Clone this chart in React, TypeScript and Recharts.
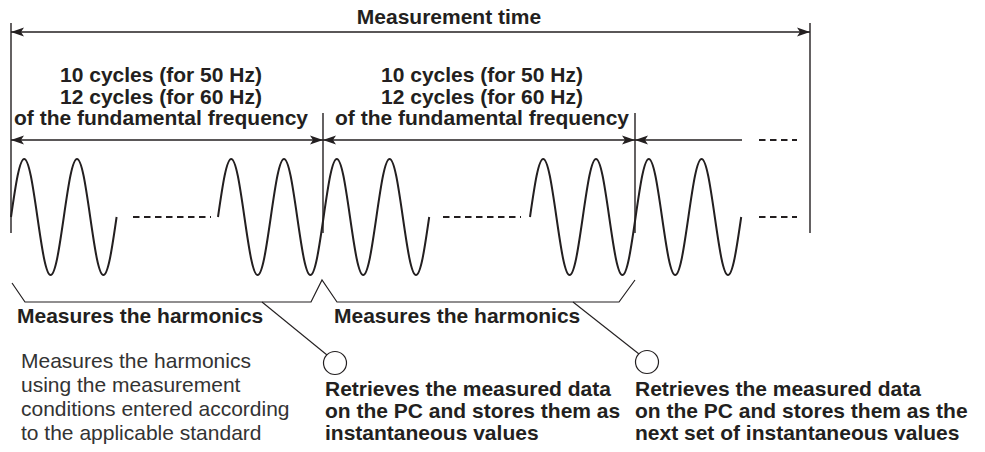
import {
	ComposedChart,
	Line,
	ReferenceDot,
	ReferenceLine,
	XAxis,
	YAxis,
} from "recharts"

// sheet units: x runs along the time line, y runs top-down like the drawing
const WIDTH = 985
const HEIGHT = 452

const ink = "#231f20"
const font = "'Liberation Sans', Arial, Helvetica, sans-serif"

// the three drawn runs of the fundamental
const waveStarts = [11, 218, 530]
const waveCycles = [2, 4, 4]
const cyclePeriod = 52.8
const cycleShape = [0, 0.71, 1, 0.71, 0, -0.71, -1, -0.71]
const waveZero = 217
const waveAmp = 58

// span arrows (measurement time + the two windows + the next one)
const arrowFrom = [11, 11, 323, 635]
const arrowTo = [810, 323, 635, 742]
const arrowLevel = [32, 140, 140, 140]
const arrowHeads = ["both", "both", "both", "left"]

// vertical boundary marks
const markAt = [11, 810, 323, 635]
const markTop = [23, 23, 113, 113]
const markBottom = [233, 233, 233, 233]

// "- - - -" continuations
const dashFrom = [133, 443, 759, 759]
const dashTo = [211, 521, 797, 797]
const dashLevel = [217, 217, 217, 140]

// bracket under the two windows
const braceX = [12, 25, 311, 322, 337, 619, 635]
const braceY = [283, 302, 302, 280, 302, 302, 280]

// leader lines down to the "store" circles
const leaderStart = [262, 573]
const leaderEnd = [327, 639]
const leaderEndY = [355, 354]
const circleX = [335, 647]
const circleY = [363, 362]

// texts
const titleLabel = "Measurement time"
const windowLines = [
	"10 cycles (for 50 Hz)",
	"12 cycles (for 60 Hz)",
	"of the fundamental frequency",
]
const windowCentres = [161, 482]
const windowBaselines = [82, 104, 125]
const measureLabel = "Measures the harmonics"
const measureStarts = [17, 334]
const noteLines = [
	"Measures the harmonics",
	"using the measurement",
	"conditions entered according",
	"to the applicable standard",
]
const noteBaselines = [368, 392, 416, 440]
const storeLines = [
	[
		"Retrieves the measured data",
		"on the PC and stores them as",
		"instantaneous values",
	],
	[
		"Retrieves the measured data",
		"on the PC and stores them as the",
		"next set of instantaneous values",
	],
]
const storeStarts = [325, 635]
const storeBaselines = [396, 418, 440]

const waves = waveStarts.map((start, i) => {
	const steps = cycleShape.length
	const pts = []
	for (let k = 0; k <= waveCycles[i] * steps; k++) {
		pts.push({ x: start + (k * cyclePeriod) / steps, v: cycleShape[k % steps] })
	}
	return pts
})

const brace = braceX.map((x, i) => ({ x, y: braceY[i] }))

type TextRow = {
	x: number
	y: number
	text: string
	anchor: "start" | "middle"
	bold: boolean
}

const textRows: TextRow[] = [
	{ x: 449, y: 24, text: titleLabel, anchor: "middle", bold: true },
	...windowCentres.flatMap((cx) =>
		windowLines.map((t, j) => ({
			x: cx,
			y: windowBaselines[j],
			text: t,
			anchor: "middle" as const,
			bold: true,
		})),
	),
	...measureStarts.map((x) => ({
		x,
		y: 323,
		text: measureLabel,
		anchor: "start" as const,
		bold: true,
	})),
	...noteLines.map((t, j) => ({
		x: 21,
		y: noteBaselines[j],
		text: t,
		anchor: "start" as const,
		bold: false,
	})),
	...storeLines.flatMap((lines, i) =>
		lines.map((t, j) => ({
			x: storeStarts[i],
			y: storeBaselines[j],
			text: t,
			anchor: "start" as const,
			bold: true,
		})),
	),
]

const head = (tx: number, ty: number, dir: number) => {
	const len = 13
	const half = 4.5
	const back = 10
	return `${tx},${ty} ${tx - dir * len},${ty - half} ${tx - dir * back},${ty} ${tx - dir * len},${ty + half}`
}

const arrowShape = (heads: string) => (p: any) => {
	const { x1, y1, x2, y2 } = p
	return (
		<g>
			<line x1={x1} y1={y1} x2={x2} y2={y2} stroke={ink} strokeWidth={1.4} />
			<polygon points={head(x1, y1, -1)} fill={ink} />
			{heads === "both" && <polygon points={head(x2, y2, 1)} fill={ink} />}
		</g>
	)
}

const textShape = (row: TextRow) => (p: any) => (
	<text
		x={p.cx}
		y={p.cy}
		textAnchor={row.anchor}
		fontFamily={font}
		fontSize={21}
		fontWeight={row.bold ? 700 : 400}
		fill={row.bold ? ink : "#333"}
	>
		{row.text}
	</text>
)

const App = () => (
	<div>
		<style>{"body{margin:0;background:#fff}"}</style>
		<ComposedChart
			width={WIDTH}
			height={HEIGHT}
			margin={{ top: 0, right: 0, bottom: 0, left: 0 }}
		>
			<XAxis
				type="number"
				dataKey="x"
				domain={[0, WIDTH]}
				allowDataOverflow
				hide
			/>
			<YAxis type="number" domain={[0, HEIGHT]} reversed allowDataOverflow hide />
			<YAxis
				yAxisId="wave"
				type="number"
				domain={[(waveZero - HEIGHT) / waveAmp, waveZero / waveAmp]}
				allowDataOverflow
				hide
			/>

			{markAt.map((x, i) => (
				<ReferenceLine
					key={`m${i}`}
					segment={[
						{ x, y: markTop[i] },
						{ x, y: markBottom[i] },
					]}
					stroke={ink}
					strokeWidth={1.4}
				/>
			))}

			{arrowFrom.map((x, i) => (
				<ReferenceLine
					key={`a${i}`}
					segment={[
						{ x, y: arrowLevel[i] },
						{ x: arrowTo[i], y: arrowLevel[i] },
					]}
					shape={arrowShape(arrowHeads[i])}
				/>
			))}

			{dashFrom.map((x, i) => (
				<ReferenceLine
					key={`d${i}`}
					segment={[
						{ x, y: dashLevel[i] },
						{ x: dashTo[i], y: dashLevel[i] },
					]}
					stroke={ink}
					strokeWidth={2}
					strokeDasharray="6.5 4.5"
				/>
			))}

			{waves.map((pts, i) => (
				<Line
					key={`w${i}`}
					data={pts}
					dataKey="v"
					yAxisId="wave"
					type="natural"
					stroke={ink}
					strokeWidth={2}
					dot={false}
					activeDot={false}
					isAnimationActive={false}
				/>
			))}

			<Line
				data={brace}
				dataKey="y"
				type="linear"
				stroke={ink}
				strokeWidth={1.2}
				dot={false}
				activeDot={false}
				isAnimationActive={false}
			/>

			{leaderStart.map((x, i) => (
				<ReferenceLine
					key={`l${i}`}
					segment={[
						{ x, y: 302 },
						{ x: leaderEnd[i], y: leaderEndY[i] },
					]}
					stroke={ink}
					strokeWidth={1.1}
				/>
			))}

			{circleX.map((x, i) => (
				<ReferenceDot
					key={`c${i}`}
					x={x}
					y={circleY[i]}
					r={11.5}
					fill="#fff"
					stroke={ink}
					strokeWidth={1.2}
				/>
			))}

			{textRows.map((row, i) => (
				<ReferenceDot
					key={`t${i}`}
					x={row.x}
					y={row.y}
					r={0}
					shape={textShape(row)}
				/>
			))}
		</ComposedChart>
	</div>
)

export default App
